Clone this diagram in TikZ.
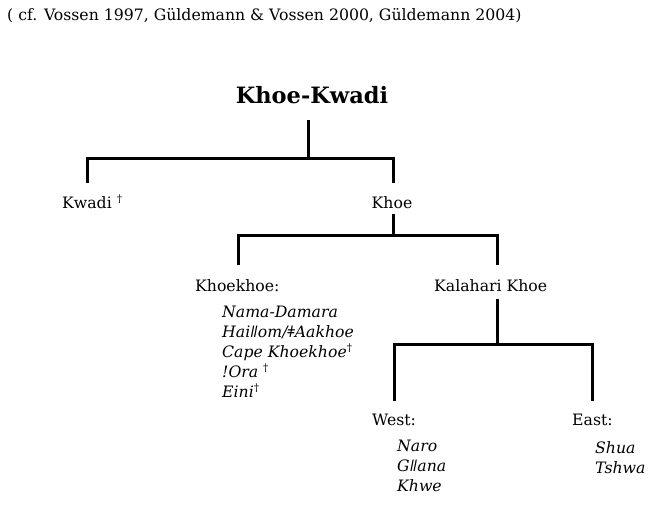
\documentclass[tikz,border=0pt]{standalone}
\usepackage{fontspec}
\setmainfont{DejaVu Serif}
\begin{document}
\begin{tikzpicture}[x=1pt,y=-1pt,
  lbl/.style={inner sep=0pt,anchor=base west,font=\fontsize{15.7}{18}\selectfont},
  lang/.style={lbl,font=\fontsize{15.7}{18}\selectfont\itshape},
  branch/.style={line width=3pt,line cap=butt,line join=miter}]
\useasboundingbox[fill=white] (0,0) rectangle (658,504);
\newcommand{\dg}{\textsuperscript{\fontsize{10.5}{10.5}\selectfont\upshape †}}
% header
\node[lbl] (src) at (7,20) {( cf. Vossen 1997, Güldemann \& Vossen 2000, Güldemann 2004)};
% root
\node[inner sep=0pt,anchor=base,font=\fontsize{22.5}{26}\selectfont\bfseries] (root) at (312,103) {Khoe-Kwadi};
% level 1
\node[lbl] (kwadi) at (62,208) {Kwadi \dg};
\node[lbl,anchor=base] (khoe) at (392,208) {Khoe};
% level 2
\node[lbl] (khoekhoe) at (195,291) {Khoekhoe:};
\node[lbl] (kalahari) at (434,291) {Kalahari Khoe};
\node[lang] (nama) at (222,317) {Nama-Damara};
\node[lang] (haiom) at (222,337) {Haiǁom/ǂAakhoe};
\node[lang] (cape) at (222,357) {Cape Khoekhoe\dg};
\node[lang] (ora) at (222,377) {!Ora \dg};
\node[lang] (eini) at (222,397) {Eini\dg};
% level 3
\node[lbl] (west) at (372,425) {West:};
\node[lbl] (east) at (572,425) {East:};
\node[lang] (naro) at (397,451) {Naro};
\node[lang] (gana) at (397,471) {Gǁana};
\node[lang] (khwe) at (397,491) {Khwe};
\node[lang] (shua) at (595,453) {Shua};
\node[lang] (tshwa) at (595,473) {Tshwa};
% junction coordinates
\coordinate (r0) at (308,120);
\coordinate (r1) at (308,158);
\coordinate (aL) at (87,158);
\coordinate (aR) at (393,158);
\coordinate (aLd) at (87,183);
\coordinate (aRd) at (393,183);
\coordinate (k0) at (393,214);
\coordinate (k1) at (393,235);
\coordinate (bL) at (238,235);
\coordinate (bR) at (497,235);
\coordinate (bLd) at (238,265);
\coordinate (bRd) at (497,265);
\coordinate (c0) at (497,299);
\coordinate (c1) at (497,344);
\coordinate (cL) at (394,344);
\coordinate (cR) at (592,344);
\coordinate (cLd) at (394,401);
\coordinate (cRd) at (592,401);
% branches
\draw[branch] (r0) -- (r1);
\draw[branch] (aLd) -- (aL) -- (aR) -- (aRd);
\draw[branch] (k0) -- (k1);
\draw[branch] (bLd) -- (bL) -- (bR) -- (bRd);
\draw[branch] (c0) -- (c1);
\draw[branch] (cLd) -- (cL) -- (cR) -- (cRd);
\end{tikzpicture}
\end{document}
